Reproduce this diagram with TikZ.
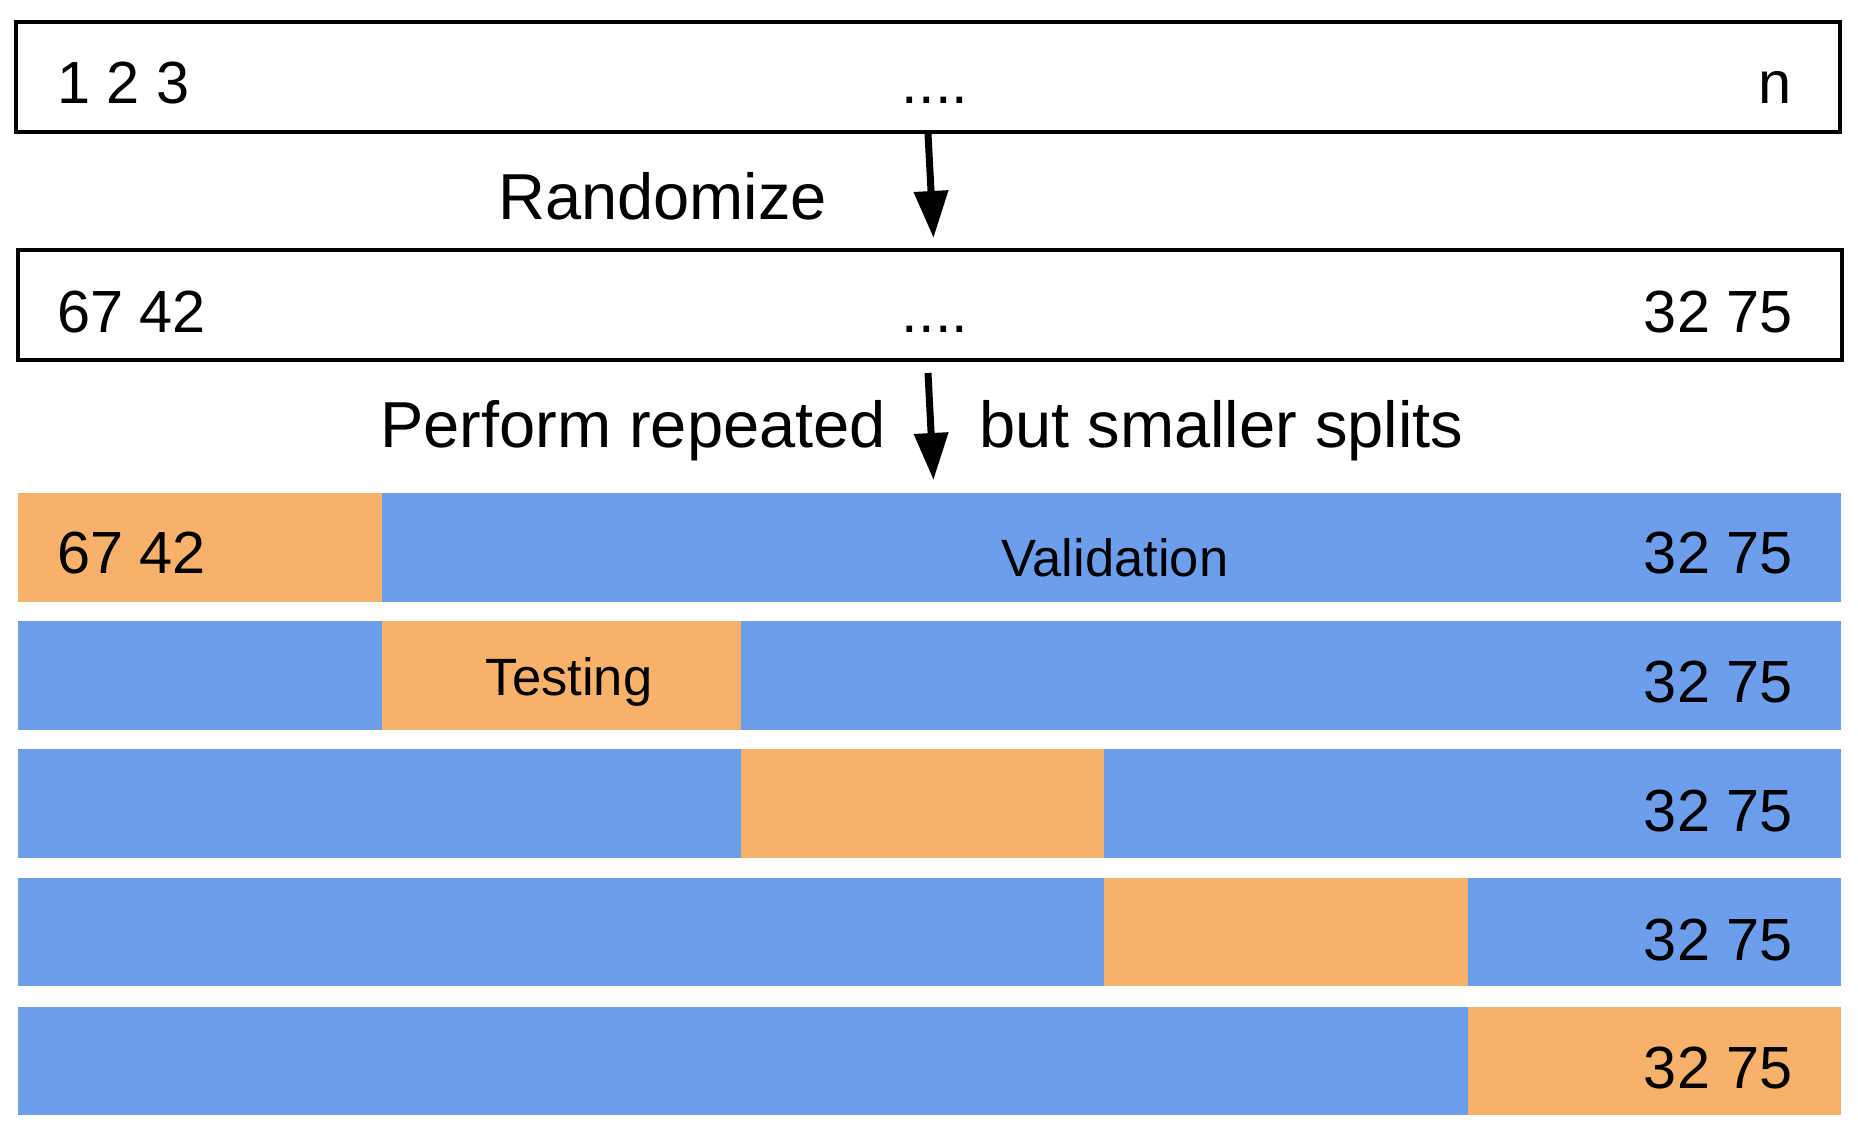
\documentclass[tikz,border=0pt]{standalone}
\usepackage{fontspec}
\setmainfont{Liberation Sans}
\usetikzlibrary{arrows.meta}
\definecolor{segorange}{HTML}{F6B26B}
\definecolor{segblue}{HTML}{6D9EEB}
\tikzset{
  framebox/.style={draw=black, line width=4pt, fill=white},
  big/.style={font=\fontsize{59.5}{70}\selectfont, inner sep=0pt},
  huge/.style={font=\fontsize{65}{78}\selectfont, inner sep=0pt},
  mid/.style={font=\fontsize{52.5}{62}\selectfont, inner sep=0pt},
  flow/.style={line width=7pt, -{Triangle[width=33pt,length=47pt]}},
}
\begin{document}
\begin{tikzpicture}[x=1pt,y=-1pt]
\useasboundingbox (0,0) rectangle (1858,1130);
% boxes
\draw[framebox] (16,21.5) rectangle (1840,132);
\draw[framebox] (18,250) rectangle (1842,360);
\node[big, anchor=base west] (b1a) at (57,103) {1 2 3};
\node[big, anchor=base] (b1b) at (935,103) {....};
\node[big, anchor=base east] (b1c) at (1792,103) {n};
\node[big, anchor=base west] (b2a) at (57,332) {67 42};
\node[big, anchor=base] (b2b) at (935,332) {....};
\node[big, anchor=base east] (b2c) at (1793,332) {32 75};
% arrows
\coordinate (a1s) at (928,134);
\coordinate (a1e) at (933.5,238);
\coordinate (a2s) at (928,373);
\coordinate (a2e) at (933.5,480);
\draw[flow] (a1s) -- (a1e);
\draw[flow] (a2s) -- (a2e);
\node[huge, anchor=base west] (rnd) at (498,219) {Randomize};
\node[huge, anchor=base west] (prf) at (380,447) {Perform repeated};
\node[huge, anchor=base west] (bss) at (979,447) {but smaller splits};
% rows
\def\xa{18}\def\xb{382}\def\xc{741}\def\xd{1104}\def\xe{1468}\def\xf{1841}
\foreach \yt/\yb in {493/602, 621/730, 749/858, 878/986, 1007/1115}{
  \fill[segblue] (\xa,\yt) rectangle (\xf,\yb);
}
\fill[segorange] (\xa,493) rectangle (\xb,602);
\fill[segorange] (\xb,621) rectangle (\xc,730);
\fill[segorange] (\xc,749) rectangle (\xd,858);
\fill[segorange] (\xd,878) rectangle (\xe,986);
\fill[segorange] (\xe,1007) rectangle (\xf,1115);
\node[big, anchor=base west] (r1a) at (57,573) {67 42};
\node[mid, anchor=base] (val) at (1115,576) {Validation};
\node[mid, anchor=base] (tst) at (569,695) {Testing};
\node[big, anchor=base east] (r1) at (1793,573) {32 75};
\node[big, anchor=base east] (r2) at (1793,702) {32 75};
\node[big, anchor=base east] (r3) at (1793,831) {32 75};
\node[big, anchor=base east] (r4) at (1793,960) {32 75};
\node[big, anchor=base east] (r5) at (1793,1088) {32 75};
\end{tikzpicture}
\end{document}
